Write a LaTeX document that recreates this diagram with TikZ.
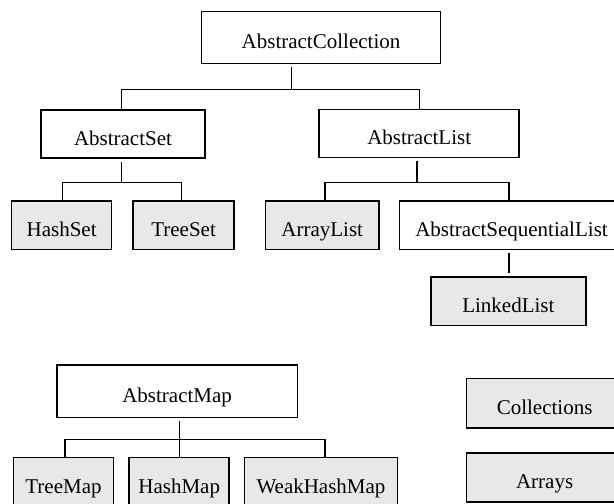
\documentclass[tikz,border=0pt]{standalone}
\usepackage{fontspec}
\setmainfont{Liberation Serif}
\definecolor{leafgray}{RGB}{232,232,232}
\begin{document}
\begin{tikzpicture}[x=1pt,y=-1pt,
  box/.style={draw=black, line width=1.5pt, inner sep=0pt, anchor=center,
    text height=22pt, text depth=0pt,
    font=\fontsize{21}{25}\selectfont, fill=white},
  leaf/.style={box, fill=leafgray},
  conn/.style={draw=black, line width=1.4pt}]
\useasboundingbox (0,0) rectangle (614,504);
\clip (0,0) rectangle (614,504);
% nodes
\node[box, minimum width=239pt, minimum height=51.6pt] (ac) at (321,37.5) {AbstractCollection};
\node[box, minimum width=163.7pt, minimum height=48pt] (aset) at (123,134.2) {AbstractSet};
\node[box, minimum width=200pt, minimum height=48pt] (alist) at (419.2,133.7) {AbstractList};
\node[leaf, minimum width=100pt, minimum height=48.5pt] (hashset) at (61.6,225) {HashSet};
\node[leaf, minimum width=101pt, minimum height=48.5pt] (treeset) at (183.6,225) {TreeSet};
\node[leaf, minimum width=113.5pt, minimum height=48.5pt] (arraylist) at (322.2,225) {ArrayList};
\node[box, minimum width=224.2pt, minimum height=48.5pt] (asl) at (511.5,225) {AbstractSequentialList};
\node[leaf, minimum width=155.3pt, minimum height=48.5pt] (linkedlist) at (508.4,301) {LinkedList};
\node[box, minimum width=240.7pt, minimum height=52.5pt] (amap) at (177.1,391.2) {AbstractMap};
\node[leaf, minimum width=100pt, minimum height=50pt] (treemap) at (63.5,482.3) {TreeMap};
\node[leaf, minimum width=100pt, minimum height=50pt] (hashmap) at (179.2,482.3) {HashMap};
\node[leaf, minimum width=152.7pt, minimum height=50pt] (weak) at (321,482.3) {WeakHashMap};
\node[leaf, minimum width=155.8pt, minimum height=49.4pt] (coll) at (544.6,403.1) {Collections};
\node[leaf, minimum width=155.8pt, minimum height=48.7pt] (arrays) at (544.6,477.4) {Arrays};
% junction coordinates
\coordinate (j1) at (291.7,89.3);
\coordinate (h1l) at (121.4,89.3);
\coordinate (h1r) at (419.3,89.3);
\coordinate (s1) at (121.4,182.7);
\coordinate (s1l) at (62.6,182.7);
\coordinate (s1r) at (181.3,182.7);
\coordinate (l1) at (417,182.7);
\coordinate (l1l) at (325,182.7);
\coordinate (l1r) at (509,182.7);
\coordinate (ll) at (509,270);
\coordinate (m1) at (179.3,439.5);
\coordinate (m1l) at (65,439.5);
\coordinate (m1r) at (325,439.5);
% connectors
\draw[conn] ([yshift=-3pt]ac.south -| j1) -- (j1);
\draw[conn] (aset.north -| h1l) -- (h1l) -- (h1r) -- (alist.north -| h1r);
\draw[conn] ([yshift=-3pt]aset.south -| s1) -- (s1);
\draw[conn] (hashset.north -| s1l) -- (s1l) -- (s1r) -- (treeset.north -| s1r);
\draw[conn] ([yshift=-3pt]alist.south -| l1) -- (l1);
\draw[conn] (arraylist.north -| l1l) -- (l1l) -- (l1r) -- (asl.north -| l1r);
\draw[conn] ([yshift=-3pt]asl.south -| ll) -- ([yshift=3pt]linkedlist.north -| ll);
\draw[conn] ([yshift=-3pt]amap.south -| m1) -- (m1) -- (hashmap.north -| m1);
\draw[conn] (treemap.north -| m1l) -- (m1l) -- (m1r) -- (weak.north -| m1r);
\end{tikzpicture}
\end{document}
